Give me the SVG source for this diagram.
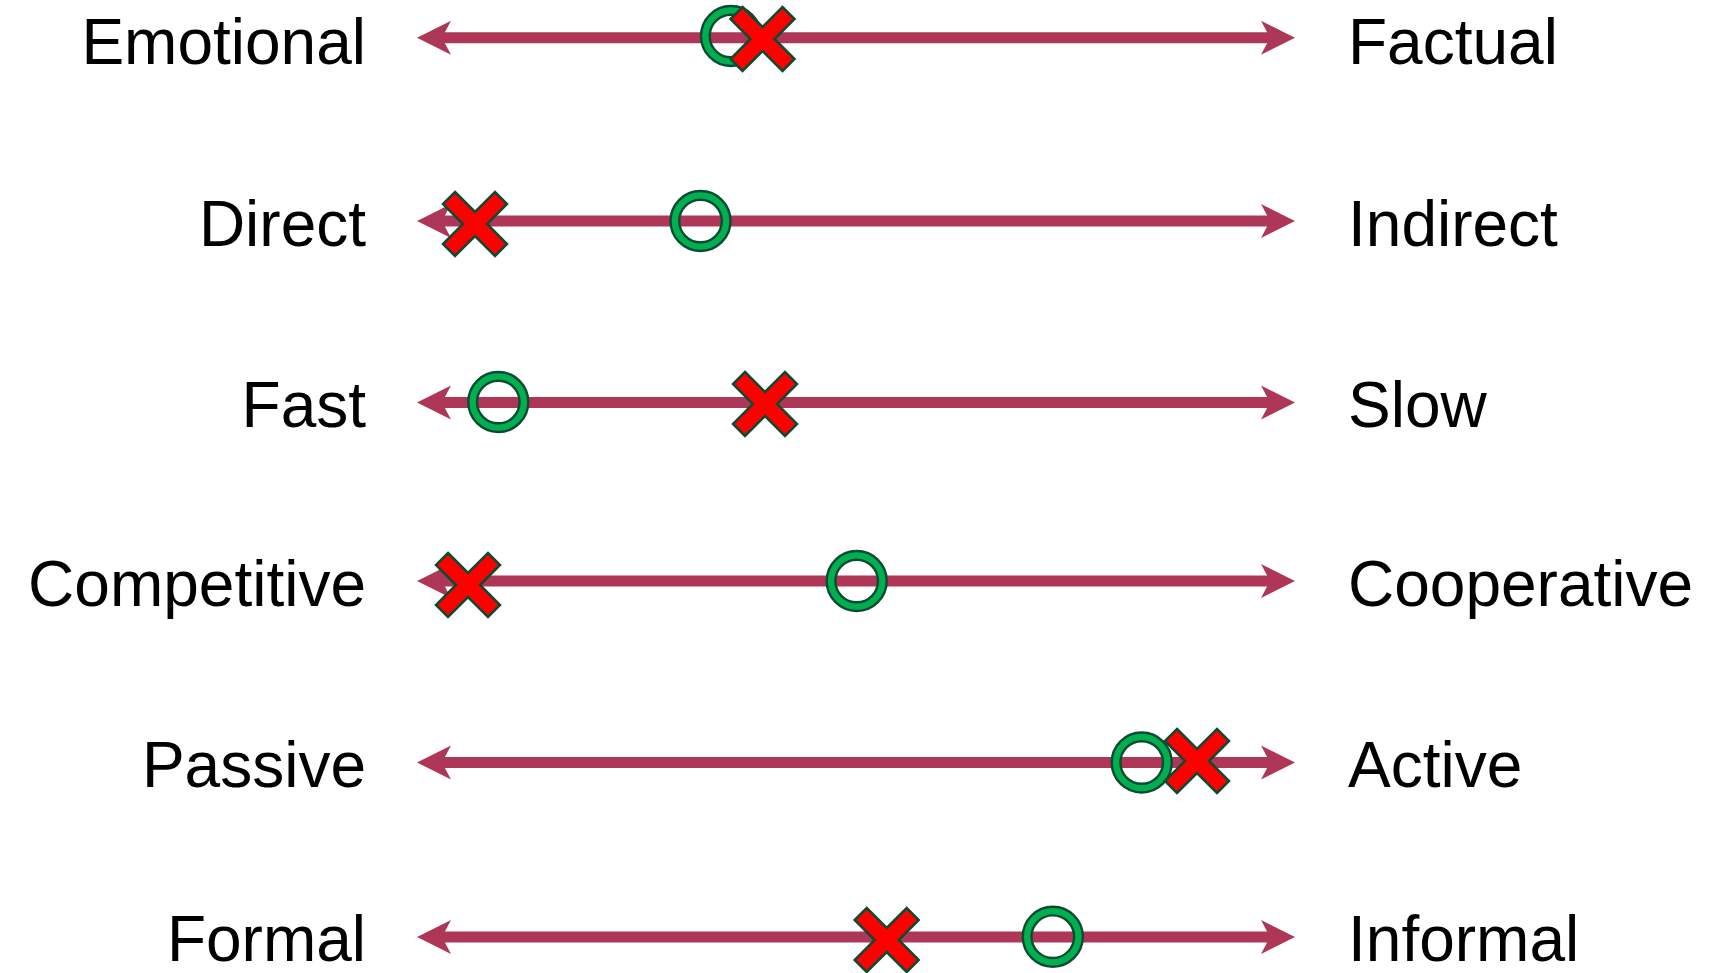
<svg xmlns="http://www.w3.org/2000/svg" xmlns:xlink="http://www.w3.org/1999/xlink" width="1724" height="973" viewBox="0 0 1724 973">
<style>
.lbl{font-family:"Liberation Sans",Arial,sans-serif;font-size:64px;fill:#000}
.l{text-anchor:end}
.axis{stroke:#AE3656;stroke-width:11;fill:none}
.head{fill:#AE3656}
.ring{fill:#00B050;fill-rule:evenodd;stroke:#0D4A33;stroke-width:2.4}
.cross{fill:#FF0000;stroke:#0D4A33;stroke-width:2.5;stroke-linejoin:miter}
</style>
<defs>
<path id="ahR" class="head" d="M0,0 L-34,-17 L-25,0 L-34,17 Z"/>
<path id="ahL" class="head" d="M0,0 L34,-17 L25,0 L34,17 Z"/>
<path id="ring" class="ring" d="M-30,0 A30,30 0 1,0 30,0 A30,30 0 1,0 -30,0 Z M-21.3,0 A21.3,21.3 0 1,0 21.3,0 A21.3,21.3 0 1,0 -21.3,0 Z"/>
<polygon id="cross" class="cross" points="-20,-32 0,-12 20,-32 32,-20 12,0 32,20 20,32 0,12 -20,32 -32,20 -12,0 -32,-20"/>
</defs>
<g id="connectors">
<g id="axis-1"><line class="axis" x1="440" y1="37.7" x2="1272" y2="37.7"/><use xlink:href="#ahL" x="417" y="37.7"/><use xlink:href="#ahR" x="1295" y="37.7"/></g>
<g id="axis-2"><line class="axis" x1="440" y1="221" x2="1272" y2="221"/><use xlink:href="#ahL" x="417" y="221"/><use xlink:href="#ahR" x="1295" y="221"/></g>
<g id="axis-3"><line class="axis" x1="440" y1="402.5" x2="1272" y2="402.5"/><use xlink:href="#ahL" x="417" y="402.5"/><use xlink:href="#ahR" x="1295" y="402.5"/></g>
<g id="axis-4"><line class="axis" x1="440" y1="581" x2="1272" y2="581"/><use xlink:href="#ahL" x="417" y="581"/><use xlink:href="#ahR" x="1295" y="581"/></g>
<g id="axis-5"><line class="axis" x1="440" y1="762.5" x2="1272" y2="762.5"/><use xlink:href="#ahL" x="417" y="762.5"/><use xlink:href="#ahR" x="1295" y="762.5"/></g>
<g id="axis-6"><line class="axis" x1="440" y1="937" x2="1272" y2="937"/><use xlink:href="#ahL" x="417" y="937"/><use xlink:href="#ahR" x="1295" y="937"/></g>
</g>
<g id="labels-left">
<text class="lbl l" x="366" y="64">Emotional</text>
<text class="lbl l" x="366" y="246">Direct</text>
<text class="lbl l" x="366" y="427">Fast</text>
<text class="lbl l" x="366" y="606">Competitive</text>
<text class="lbl l" x="366" y="787">Passive</text>
<text class="lbl l" x="366" y="961">Formal</text>
</g>
<g id="labels-right">
<text class="lbl" x="1348" y="64">Factual</text>
<text class="lbl" x="1348" y="246">Indirect</text>
<text class="lbl" x="1348" y="427">Slow</text>
<text class="lbl" x="1348" y="606">Cooperative</text>
<text class="lbl" x="1348" y="787">Active</text>
<text class="lbl" x="1348" y="961">Informal</text>
</g>
<g id="row-1-marks"><use xlink:href="#ring" x="731" y="36"/><use xlink:href="#cross" x="762.5" y="39"/></g>
<g id="row-2-marks"><use xlink:href="#cross" x="475" y="224"/><use xlink:href="#ring" x="700.5" y="221"/></g>
<g id="row-3-marks"><use xlink:href="#ring" x="498.3" y="402"/><use xlink:href="#cross" x="765" y="404"/></g>
<g id="row-4-marks"><use xlink:href="#cross" x="468" y="585"/><use xlink:href="#ring" x="856.7" y="581"/></g>
<g id="row-5-marks"><use xlink:href="#ring" x="1141.7" y="762.5"/><use xlink:href="#cross" x="1197" y="761"/></g>
<g id="row-6-marks"><use xlink:href="#cross" x="886.7" y="940"/><use xlink:href="#ring" x="1052.8" y="936.7"/></g>
</svg>
